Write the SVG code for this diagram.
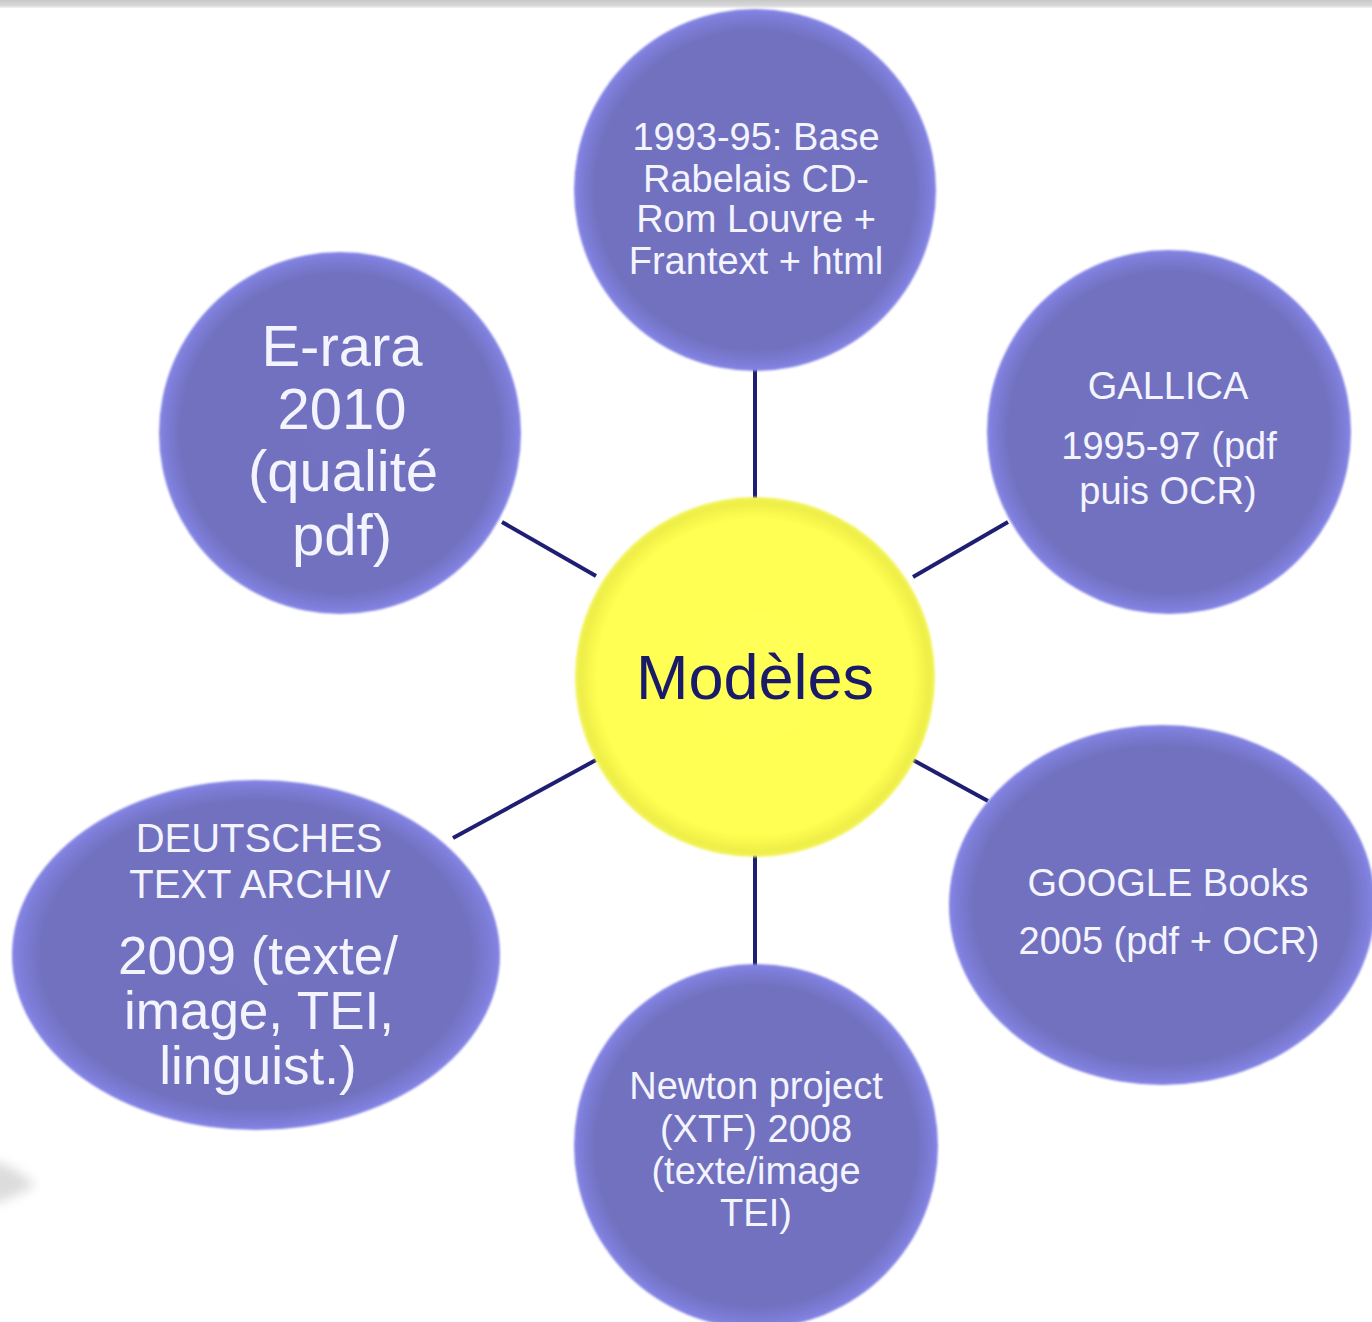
<svg xmlns="http://www.w3.org/2000/svg" width="1372" height="1322" viewBox="0 0 1372 1322">
  <defs>
    <radialGradient id="purple" cx="50%" cy="50%" r="50%">
      <stop offset="0" stop-color="#7272C0"/>
      <stop offset="0.88" stop-color="#7171BF"/>
      <stop offset="0.97" stop-color="#7E7EDB"/>
      <stop offset="1" stop-color="#8585E6"/>
    </radialGradient>
    <radialGradient id="yellow" cx="50%" cy="50%" r="50%">
      <stop offset="0" stop-color="#FFFF55"/>
      <stop offset="0.88" stop-color="#FEFE52"/>
      <stop offset="0.97" stop-color="#EEEE48"/>
      <stop offset="1" stop-color="#F4F45A"/>
    </radialGradient>
    <linearGradient id="topbar" x1="0" y1="0" x2="0" y2="1">
      <stop offset="0" stop-color="#c8c8c8"/>
      <stop offset="0.7" stop-color="#d8d8d8"/>
      <stop offset="1" stop-color="#f4f4f4"/>
    </linearGradient>
    <filter id="soft" x="-5%" y="-5%" width="110%" height="110%">
      <feGaussianBlur stdDeviation="1.2"/>
    </filter>
    <filter id="blur6" x="-50%" y="-50%" width="200%" height="200%">
      <feGaussianBlur stdDeviation="6"/>
    </filter>
  </defs>
  <style>
    .node { fill: url(#purple); filter: url(#soft); }
    .hub { fill: url(#yellow); filter: url(#soft); }
    .lbl { font-family: "Liberation Sans", Arial, sans-serif; fill: #F4F4FF; text-anchor: middle; }
    .hubtxt { font-family: "Liberation Sans", Arial, sans-serif; fill: #1A1A6A; text-anchor: middle; }
    .conn { stroke: #1E1E72; stroke-width: 4; fill: none; }
  </style>

  <rect x="0" y="0" width="1372" height="1322" fill="#FFFFFF"/>
  <rect x="0" y="0" width="1372" height="8" fill="url(#topbar)"/>
  <path d="M-10,1160 C10,1165 25,1175 35,1185 C25,1192 10,1198 -10,1205 Z" fill="#dcdcdc" filter="url(#blur6)"/>

  <g id="connectors">
    <line class="conn" x1="755" y1="368" x2="755" y2="498"/>
    <line class="conn" x1="755" y1="855" x2="755" y2="966"/>
    <line class="conn" x1="502" y1="522" x2="596" y2="576"/>
    <line class="conn" x1="1008" y1="522" x2="913" y2="577"/>
    <line class="conn" x1="453" y1="838" x2="596" y2="760"/>
    <line class="conn" x1="913" y1="760" x2="988" y2="801"/>
  </g>

  <g id="node-top">
    <circle class="node" cx="755" cy="190" r="181"/>
    <text class="lbl" font-size="38" x="756" y="150">1993-95: Base</text>
    <text class="lbl" font-size="38" x="756" y="192">Rabelais CD-</text>
    <text class="lbl" font-size="38" x="756" y="232">Rom Louvre +</text>
    <text class="lbl" font-size="38" x="756" y="274">Frantext + html</text>
  </g>

  <g id="node-erara">
    <circle class="node" cx="340" cy="433" r="181"/>
    <text class="lbl" font-size="58" x="342" y="366">E-rara</text>
    <text class="lbl" font-size="58" x="342" y="429">2010</text>
    <text class="lbl" font-size="58" x="343" y="491">(qualité</text>
    <text class="lbl" font-size="58" x="342" y="555">pdf)</text>
  </g>

  <g id="node-gallica">
    <circle class="node" cx="1169" cy="432" r="182"/>
    <text class="lbl" font-size="38" x="1168" y="399">GALLICA</text>
    <text class="lbl" font-size="38" x="1169" y="459">1995-97 (pdf</text>
    <text class="lbl" font-size="38" x="1168" y="504">puis OCR)</text>
  </g>

  <g id="node-center">
    <circle class="hub" cx="755" cy="677" r="180"/>
    <text class="hubtxt" font-size="63" x="755" y="699">Modèles</text>
  </g>

  <g id="node-deutsches">
    <ellipse class="node" cx="256" cy="955" rx="244" ry="175"/>
    <text class="lbl" font-size="40" x="259" y="852">DEUTSCHES</text>
    <text class="lbl" font-size="40" x="260" y="898">TEXT ARCHIV</text>
    <text class="lbl" font-size="53" x="258" y="974">2009 (texte/</text>
    <text class="lbl" font-size="53" x="259" y="1029">image, TEI,</text>
    <text class="lbl" font-size="53" x="258" y="1084">linguist.)</text>
  </g>

  <g id="node-google">
    <ellipse class="node" cx="1162" cy="905" rx="213" ry="180"/>
    <text class="lbl" font-size="38" x="1168" y="896">GOOGLE Books</text>
    <text class="lbl" font-size="38" x="1169" y="954">2005 (pdf + OCR)</text>
  </g>

  <g id="node-newton">
    <circle class="node" cx="756" cy="1146" r="182"/>
    <text class="lbl" font-size="38" x="756" y="1099">Newton project</text>
    <text class="lbl" font-size="38" x="756" y="1142">(XTF) 2008</text>
    <text class="lbl" font-size="38" x="756" y="1184">(texte/image</text>
    <text class="lbl" font-size="38" x="756" y="1226">TEI)</text>
  </g>
</svg>
